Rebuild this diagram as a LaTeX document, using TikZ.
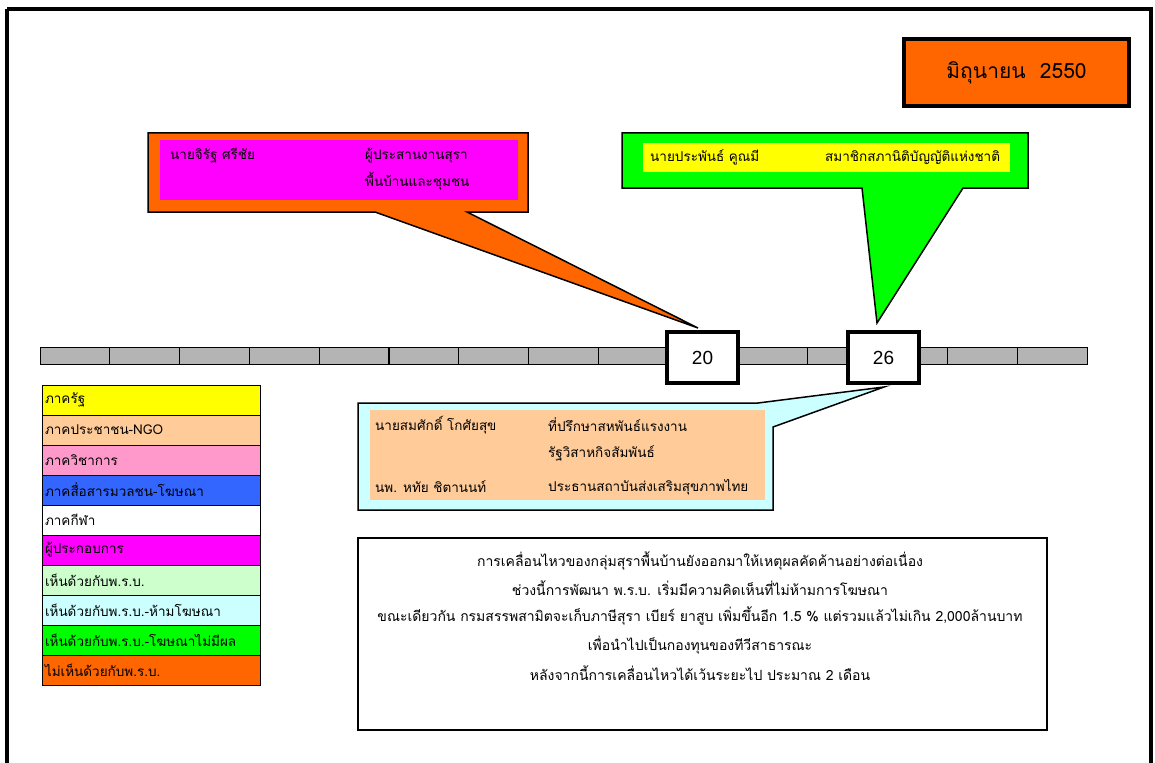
\documentclass[tikz,border=0pt]{standalone}
\usepackage{fontspec}
\usetikzlibrary{calc}
\newfontfamily\thai[Script=Thai]{Loma}
\newfontfamily\arial{Liberation Sans}
\definecolor{cOrange}{HTML}{FF6600}
\definecolor{cMagenta}{HTML}{FF00FF}
\definecolor{cGreen}{HTML}{00FF00}
\definecolor{cYellow}{HTML}{FFFF00}
\definecolor{cPeach}{HTML}{FFCC99}
\definecolor{cPink}{HTML}{FF99CC}
\definecolor{cBlue}{HTML}{3366FF}
\definecolor{cLtGreen}{HTML}{CCFFCC}
\definecolor{cLtCyan}{HTML}{CCFFFF}
\definecolor{cBar}{HTML}{B4B4B4}
\begin{document}
\begin{tikzpicture}[x=1pt,y=-1pt,
  box/.style={rectangle,inner sep=0pt,outer sep=0pt},
  legend/.style={box,draw=black,line width=1pt,minimum width=218pt,minimum height=30pt,
     text width=212pt,align=left,font=\thai\fontsize{13.5}{15}\selectfont},
  datebox/.style={box,draw=black,fill=white,line width=4pt,minimum width=71pt,minimum height=51pt,
     font=\arial\fontsize{19}{21}\selectfont},
  ctext/.style={anchor=west,inner sep=0pt,font=\thai\fontsize{13.5}{15}\selectfont},
  note/.style={inner sep=0pt,font=\thai\fontsize{14}{16}\selectfont}]
\useasboundingbox (0,0) rectangle (1155,762);
\fill[white] (0,0) rectangle (1155,762);
% outer frame
\draw[line width=4pt] (7,9) -- (1151,9) -- (1151,790);
\draw[line width=4pt] (7,9) -- (7,790);

% title
\node[box,draw=black,fill=cOrange,line width=4pt,minimum width=225pt,minimum height=67pt,
  font=\thai\fontsize{21}{24}\selectfont] (title) at (1016.5,72.5) {มิถุนายน\ \ 2550};

% timeline bar
\node[box,draw=black,fill=cBar,line width=1pt,minimum width=1047pt,minimum height=17pt] (bar) at (563.5,355.5) {};
\foreach \i in {1,...,14}{
  \draw[line width=1.2pt] ($(bar.north west)+(69.8*\i,0)$) -- ($(bar.south west)+(69.8*\i,0)$);
}
\node[datebox] (d20) at (702.5,357.5) {20};
\node[datebox] (d26) at (883.5,357.5) {26};

% callout: magenta / orange
\node[box,minimum width=380pt,minimum height=79pt] (ca) at (338,172.5) {};
\coordinate (caTip) at (698,328);
\filldraw[fill=cOrange,draw=black,line width=1.5pt,line join=miter]
  (ca.north west) -- (ca.north east) -- (ca.south east) -- ($(ca.south west)+(319,0)$)
  -- (caTip) -- ($(ca.south west)+(227,0)$) -- (ca.south west) -- cycle;
\node[box,fill=cMagenta,minimum width=358pt,minimum height=60pt] (caIn) at (339,170) {};
\node[ctext] (caName) at (170,156) {นายจิรัฐ ศรีชัย};
\node[ctext] (caRole1) at (365,156) {ผู้ประสานงานสุรา};
\node[ctext] (caRole2) at (365,181) {พื้นบ้านและชุมชน};

% callout: green / yellow
\node[box,minimum width=406pt,minimum height=55pt] (cb) at (825,160.5) {};
\coordinate (cbTip) at (877,323);
\filldraw[fill=cGreen,draw=black,line width=1.5pt,line join=miter]
  (cb.north west) -- (cb.north east) -- (cb.south east) -- ($(cb.south west)+(341,0)$)
  -- (cbTip) -- ($(cb.south west)+(240,0)$) -- (cb.south west) -- cycle;
\node[box,fill=cYellow,minimum width=367pt,minimum height=29pt] (cbIn) at (826.5,157.5) {};
\node[ctext] (cbName) at (650,157.5) {นายประพันธ์ คูณมี};
\node[ctext] (cbRole) at (825,157.5) {สมาชิกสภานิติบัญญัติแห่งชาติ};

% callout: light cyan / peach
\node[box,minimum width=415pt,minimum height=107pt] (cc) at (565.5,456.5) {};
\coordinate (ccTip) at (884,387);
\filldraw[fill=cLtCyan,draw=black,line width=1.5pt,line join=miter]
  (cc.north west) -- ($(cc.north west)+(400,0)$) -- (ccTip) -- ($(cc.north east)+(0,24)$)
  -- (cc.south east) -- (cc.south west) -- cycle;
\node[box,fill=cPeach,minimum width=395pt,minimum height=90pt] (ccIn) at (567.5,455) {};
\node[ctext] (ccName1) at (375,425) {นายสมศักดิ์ โกศัยสุข};
\node[ctext] (ccRole1) at (548,425) {ที่ปรึกษาสหพันธ์แรงงาน};
\node[ctext] (ccRole1b) at (548,453) {รัฐวิสาหกิจสัมพันธ์};
\node[ctext] (ccName2) at (375,487) {นพ. หทัย ชิตานนท์};
\node[ctext] (ccRole2) at (548,487) {ประธานสถาบันส่งเสริมสุขภาพไทย};

% legend
\node[legend,fill=cYellow]  (l1)  at (151,400) {ภาครัฐ};
\node[legend,fill=cPeach]   (l2)  at (151,430) {ภาคประชาชน-NGO};
\node[legend,fill=cPink]    (l3)  at (151,460) {ภาควิชาการ};
\node[legend,fill=cBlue]    (l4)  at (151,490) {ภาคสื่อสารมวลชน-โฆษณา};
\node[legend,fill=white]    (l5)  at (151,520) {ภาคกีฬา};
\node[legend,fill=cMagenta] (l6)  at (151,550) {ผู้ประกอบการ};
\node[legend,fill=cLtGreen] (l7)  at (151,580) {เห็นด้วยกับพ.ร.บ.};
\node[legend,fill=cLtCyan]  (l8)  at (151,610) {เห็นด้วยกับพ.ร.บ.-ห้ามโฆษณา};
\node[legend,fill=cGreen]   (l9)  at (151,640) {เห็นด้วยกับพ.ร.บ.-โฆษณาไม่มีผล};
\node[legend,fill=cOrange]  (l10) at (151,670) {ไม่เห็นด้วยกับพ.ร.บ.};

% summary box
\node[box,draw=black,line width=2.5pt,minimum width=689pt,minimum height=192pt] (sum) at (702.5,634) {};
\node[note] (s1) at (700,561) {การเคลื่อนไหวของกลุ่มสุราพื้นบ้านยังออกมาให้เหตุผลคัดค้านอย่างต่อเนื่อง};
\node[note] (s2) at (700,588) {ช่วงนี้การพัฒนา พ.ร.บ. เริ่มมีความคิดเห็นที่ไม่ห้ามการโฆษณา};
\node[note] (s3) at (700,616) {ขณะเดียวกัน กรมสรรพสามิตจะเก็บภาษีสุรา เบียร์ ยาสูบ เพิ่มขึ้นอีก 1.5 \% แต่รวมแล้วไม่เกิน 2,000ล้านบาท};
\node[note] (s4) at (700,645) {เพื่อนำไปเป็นกองทุนของทีวีสาธารณะ};
\node[note] (s5) at (700,673) {หลังจากนี้การเคลื่อนไหวได้เว้นระยะไป ประมาณ 2 เดือน};
\end{tikzpicture}
\end{document}
